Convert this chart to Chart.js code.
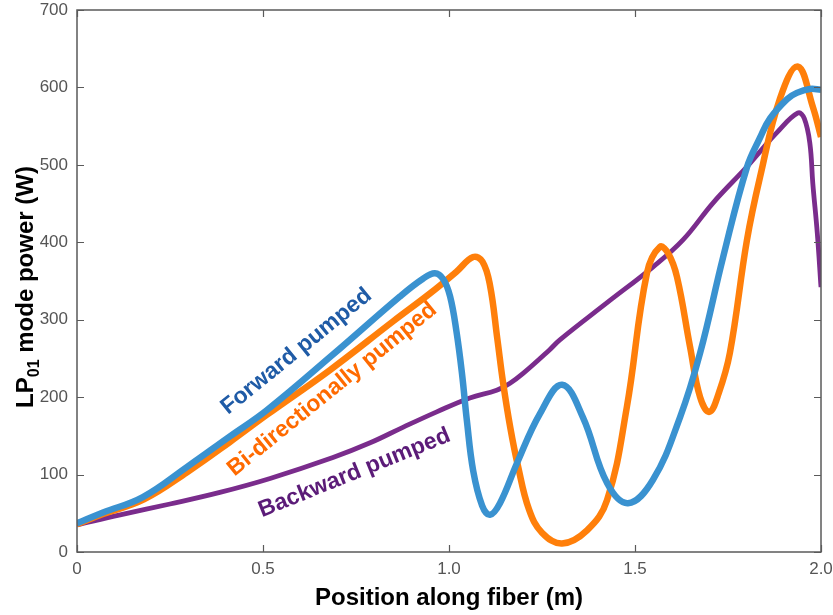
<!DOCTYPE html>
<html>
<head>
<meta charset="utf-8">
<script src="https://cdn.jsdelivr.net/npm/chart.js@4/dist/chart.umd.min.js"></script>
<style>
  html, body { margin: 0; padding: 0; background: #fff; }
  canvas { display: block; }
</style>
</head>
<body>
<canvas id="chart" width="833" height="615"></canvas>
<script>
// Position along the fiber (m) and LP01 mode power (W) for each pumping scheme
const forwardPos   = [0, 0.07, 0.177, 0.296, 0.41, 0.51, 0.688, 0.868, 0.93, 0.962, 0.985, 1.003, 1.02, 1.035, 1.048, 1.065, 1.089, 1.11, 1.137, 1.183, 1.245, 1.304, 1.36, 1.425, 1.481, 1.548, 1.621, 1.675, 1.737, 1.801, 1.836, 1.863, 1.909, 1.935, 1.97, 2.0];
const forwardPower = [37, 51, 71, 110, 149, 183, 255, 330, 353, 360, 352, 330, 285, 230, 170, 105, 60, 48, 63, 115, 179, 216, 174, 89, 63, 93, 174, 257, 381, 497, 535, 560, 585, 593, 598, 597];

const biPos   = [0, 0.07, 0.18, 0.296, 0.411, 0.51, 0.68, 0.85, 0.949, 1.02, 1.065, 1.09, 1.11, 1.13, 1.145, 1.165, 1.185, 1.215, 1.25, 1.304, 1.371, 1.425, 1.478, 1.532, 1.567, 1.59, 1.613, 1.648, 1.675, 1.7, 1.725, 1.755, 1.801, 1.836, 1.89, 1.938, 1.978, 2.0];
const biPower = [36, 49, 68, 103, 142, 177, 235, 298, 334, 362, 381, 375, 345, 275, 220, 160, 112, 55, 25, 11, 28, 67, 187, 360, 394, 385, 355, 265, 200, 181, 205, 257, 403, 484, 586, 627, 575, 536];

const backwardPos   = [0, 0.116, 0.25, 0.384, 0.519, 0.688, 0.788, 0.876, 0.967, 1.056, 1.128, 1.164, 1.2, 1.27, 1.298, 1.425, 1.548, 1.629, 1.71, 1.8, 1.836, 1.88, 1.938, 1.955, 1.97, 1.978, 1.99, 2.0];
const backwardPower = [35, 48, 62, 77, 95, 122, 141, 161, 181, 199, 209, 218, 231, 261, 274, 322, 368, 403, 451, 497, 517, 541, 567, 560, 528, 476, 412, 342];

// Axis ticks
const xTicks = [0, 0.5, 1.0, 1.5, 2.0];
const xTickLabels = ['0', '0.5', '1.0', '1.5', '2.0'];
const yTicks = [0, 100, 200, 300, 400, 500, 600, 700];

// In-plot curve labels, anchored in data coordinates
const curveLabels = [
  { text: 'Forward pumped',          x: 0.590, y: 259, angle: -39, color: '#1f5ba6' },
  { text: 'Bi-directionally pumped', x: 0.686, y: 210, angle: -39, color: '#ff6a00' },
  { text: 'Backward pumped',         x: 0.746, y: 102, angle: -22, color: '#5b1b78' }
];

const toPoints = (xs, ys) => xs.map((x, i) => ({ x, y: ys[i] }));

const FONT = "'Liberation Sans', Arial, Helvetica, sans-serif";

// Box, inward tick marks, y-axis title with subscript and curve labels
const framePlugin = {
  id: 'frame',
  afterDatasetsDraw(chart) {
    const { ctx, scales: { x, y } } = chart;
    ctx.save();
    ctx.font = `bold 23px ${FONT}`;
    ctx.textAlign = 'center';
    ctx.textBaseline = 'middle';
    curveLabels.forEach(l => {
      ctx.save();
      ctx.translate(x.getPixelForValue(l.x), y.getPixelForValue(l.y));
      ctx.rotate(l.angle * Math.PI / 180);
      ctx.fillStyle = l.color;
      ctx.fillText(l.text, 0, 0);
      ctx.restore();
    });
    ctx.restore();
  },
  afterDraw(chart) {
    const { ctx, chartArea: a, scales: { x, y } } = chart;
    ctx.save();
    ctx.strokeStyle = '#5a5a5a';
    ctx.lineWidth = 1.5;
    ctx.strokeRect(a.left, a.top, a.right - a.left, a.bottom - a.top);
    const tl = 7;
    ctx.beginPath();
    xTicks.forEach(v => {
      const px = Math.round(x.getPixelForValue(v)) + 0.5;
      ctx.moveTo(px, a.bottom); ctx.lineTo(px, a.bottom - tl);
      ctx.moveTo(px, a.top);    ctx.lineTo(px, a.top + tl);
    });
    yTicks.forEach(v => {
      const py = Math.round(y.getPixelForValue(v)) + 0.5;
      ctx.moveTo(a.left, py);  ctx.lineTo(a.left + tl, py);
      ctx.moveTo(a.right, py); ctx.lineTo(a.right - tl, py);
    });
    ctx.lineWidth = 1.2;
    ctx.stroke();

    // y-axis title: LP with subscript 01
    const big = `bold 24px ${FONT}`, small = `bold 16px ${FONT}`;
    const parts = [
      { t: 'LP', f: big, dy: 0 },
      { t: '01', f: small, dy: 6 },
      { t: ' mode power (W)', f: big, dy: 0 }
    ];
    let total = 0;
    parts.forEach(p => { ctx.font = p.f; p.w = ctx.measureText(p.t).width; total += p.w; });
    const cy = (a.top + a.bottom) / 2 + 6;
    ctx.translate(33, cy);
    ctx.rotate(-Math.PI / 2);
    ctx.fillStyle = '#000';
    ctx.textAlign = 'left';
    ctx.textBaseline = 'alphabetic';
    let cx = -total / 2;
    parts.forEach(p => { ctx.font = p.f; ctx.fillText(p.t, cx, p.dy); cx += p.w; });
    ctx.restore();
  }
};

const lineStyle = { showLine: true, pointRadius: 0, tension: 0.4 };

new Chart(document.getElementById('chart').getContext('2d'), {
  type: 'scatter',
  data: {
    datasets: [
      { ...lineStyle, label: 'Forward pumped', data: toPoints(forwardPos, forwardPower),
        borderColor: '#3a92d0', borderWidth: 6.5, order: 0 },
      { ...lineStyle, label: 'Bi-directionally pumped', data: toPoints(biPos, biPower),
        borderColor: '#ff7f0a', borderWidth: 6.5, order: 1 },
      { ...lineStyle, label: 'Backward pumped', data: toPoints(backwardPos, backwardPower),
        borderColor: '#7a2c8c', borderWidth: 4.8, order: 2 }
    ]
  },
  options: {
    responsive: false,
    animation: false,
    devicePixelRatio: 1,
    layout: { padding: { top: 10, right: 12, left: 0, bottom: 0 } },
    plugins: { legend: { display: false }, tooltip: { enabled: false } },
    scales: {
      x: {
        type: 'linear', min: 0, max: 2,
        afterBuildTicks: s => { s.ticks = xTicks.map(v => ({ value: v })); },
        afterFit: s => { s.height = 63; s.paddingLeft = 0; s.paddingRight = 0; },
        grid: { display: false, drawTicks: false },
        border: { display: false },
        ticks: {
          autoSkip: false, maxRotation: 0, padding: 7,
          color: '#555', font: { family: FONT, size: 17 },
          callback: v => xTickLabels[xTicks.indexOf(v)] ?? ''
        },
        title: {
          display: true, text: 'Position along fiber (m)', color: '#000',
          font: { family: FONT, size: 24, weight: 'bold' },
          padding: { top: 0, bottom: 2 }
        }
      },
      y: {
        type: 'linear', min: 0, max: 700,
        afterBuildTicks: s => { s.ticks = yTicks.map(v => ({ value: v })); },
        afterFit: s => { s.width = 77; s.paddingTop = 0; s.paddingBottom = 0; },
        grid: { display: false, drawTicks: false },
        border: { display: false },
        ticks: {
          padding: 9, color: '#555', font: { family: FONT, size: 17 },
          callback: v => String(v)
        }
      }
    }
  },
  plugins: [framePlugin]
});
</script>
</body>
</html>
